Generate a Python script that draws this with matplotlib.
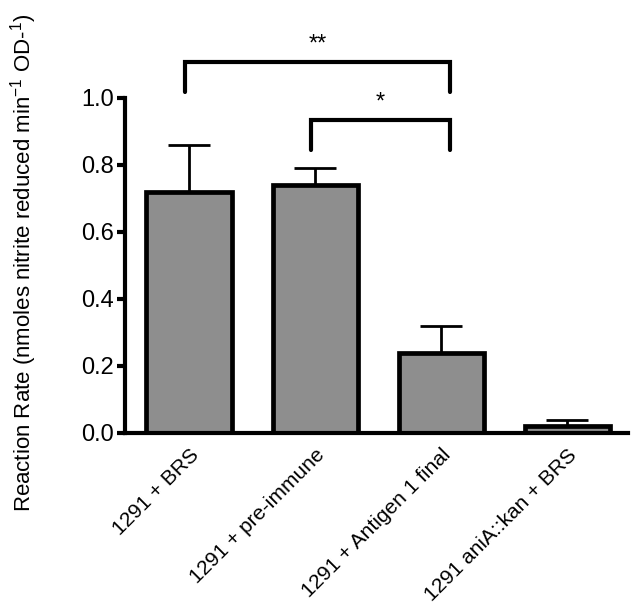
import numpy as np
import matplotlib
matplotlib.use("Agg")
import matplotlib.pyplot as plt

plt.rcParams['font.family'] = ['Liberation Sans', 'DejaVu Sans']
plt.rcParams['mathtext.fontset'] = 'custom'
plt.rcParams['mathtext.rm'] = 'Liberation Sans'
plt.rcParams['mathtext.it'] = 'Liberation Sans'

# data
groups = ['1291 + BRS', '1291 + pre-immune', '1291 + Antigen 1 final', '1291 aniA::kan + BRS']
rates = [0.72, 0.74, 0.24, 0.02]
errors = [0.14, 0.05, 0.08, 0.02]
# significance brackets: (left bar, right bar, height, drop, label)
brackets = [(0, 2, 1.107, 1.018, '**'), (1, 2, 0.934, 0.845, '*')]

fig = plt.figure(figsize=(6.41, 6.06), dpi=100)
ax = fig.add_axes([0.195, 0.2855, 0.785, 0.5528])

x = np.arange(len(groups))
ax.bar(x, rates, width=0.675, color='#8e8e8e', edgecolor='black', linewidth=3.4, zorder=2)
ax.errorbar(x, rates, yerr=[np.zeros(len(errors)), errors], fmt='none', ecolor='black',
            elinewidth=2, capsize=15, capthick=2, zorder=1)

for i0, i1, h, drop, lab in brackets:
    xl = x[i0] - 0.03
    xr = x[i1] + 0.07
    ax.plot([xl, xl, xr, xr], [drop, h, h, drop], color='black', lw=3,
            clip_on=False, solid_capstyle='round', solid_joinstyle='miter')
    ax.text((xl + xr) / 2, h + 0.02, lab, ha='center', va='bottom', fontsize=17)

ax.set_xlim(-0.508, 3.484)
ax.set_ylim(0, 1.0)
ax.set_yticks([0.0, 0.2, 0.4, 0.6, 0.8, 1.0])
ax.set_yticklabels(['0.0', '0.2', '0.4', '0.6', '0.8', '1.0'], fontsize=17)
ax.set_xticks(x)
ax.set_xticklabels(groups, rotation=45, ha='right', rotation_mode='anchor', fontsize=15)
ax.tick_params(axis='x', length=0, pad=9)
ax.tick_params(axis='y', length=6, width=3, direction='out', pad=2)

ax.spines['top'].set_visible(False)
ax.spines['right'].set_visible(False)
ax.spines['left'].set_linewidth(3)
ax.spines['bottom'].set_linewidth(3)

ax.set_ylabel('Reaction Rate (nmoles nitrite reduced min$^{-1}$ OD-$^{1}$)', fontsize=16)
ax.yaxis.set_label_coords(-0.17, 0.507)

fig.savefig('out.png', dpi=100)
